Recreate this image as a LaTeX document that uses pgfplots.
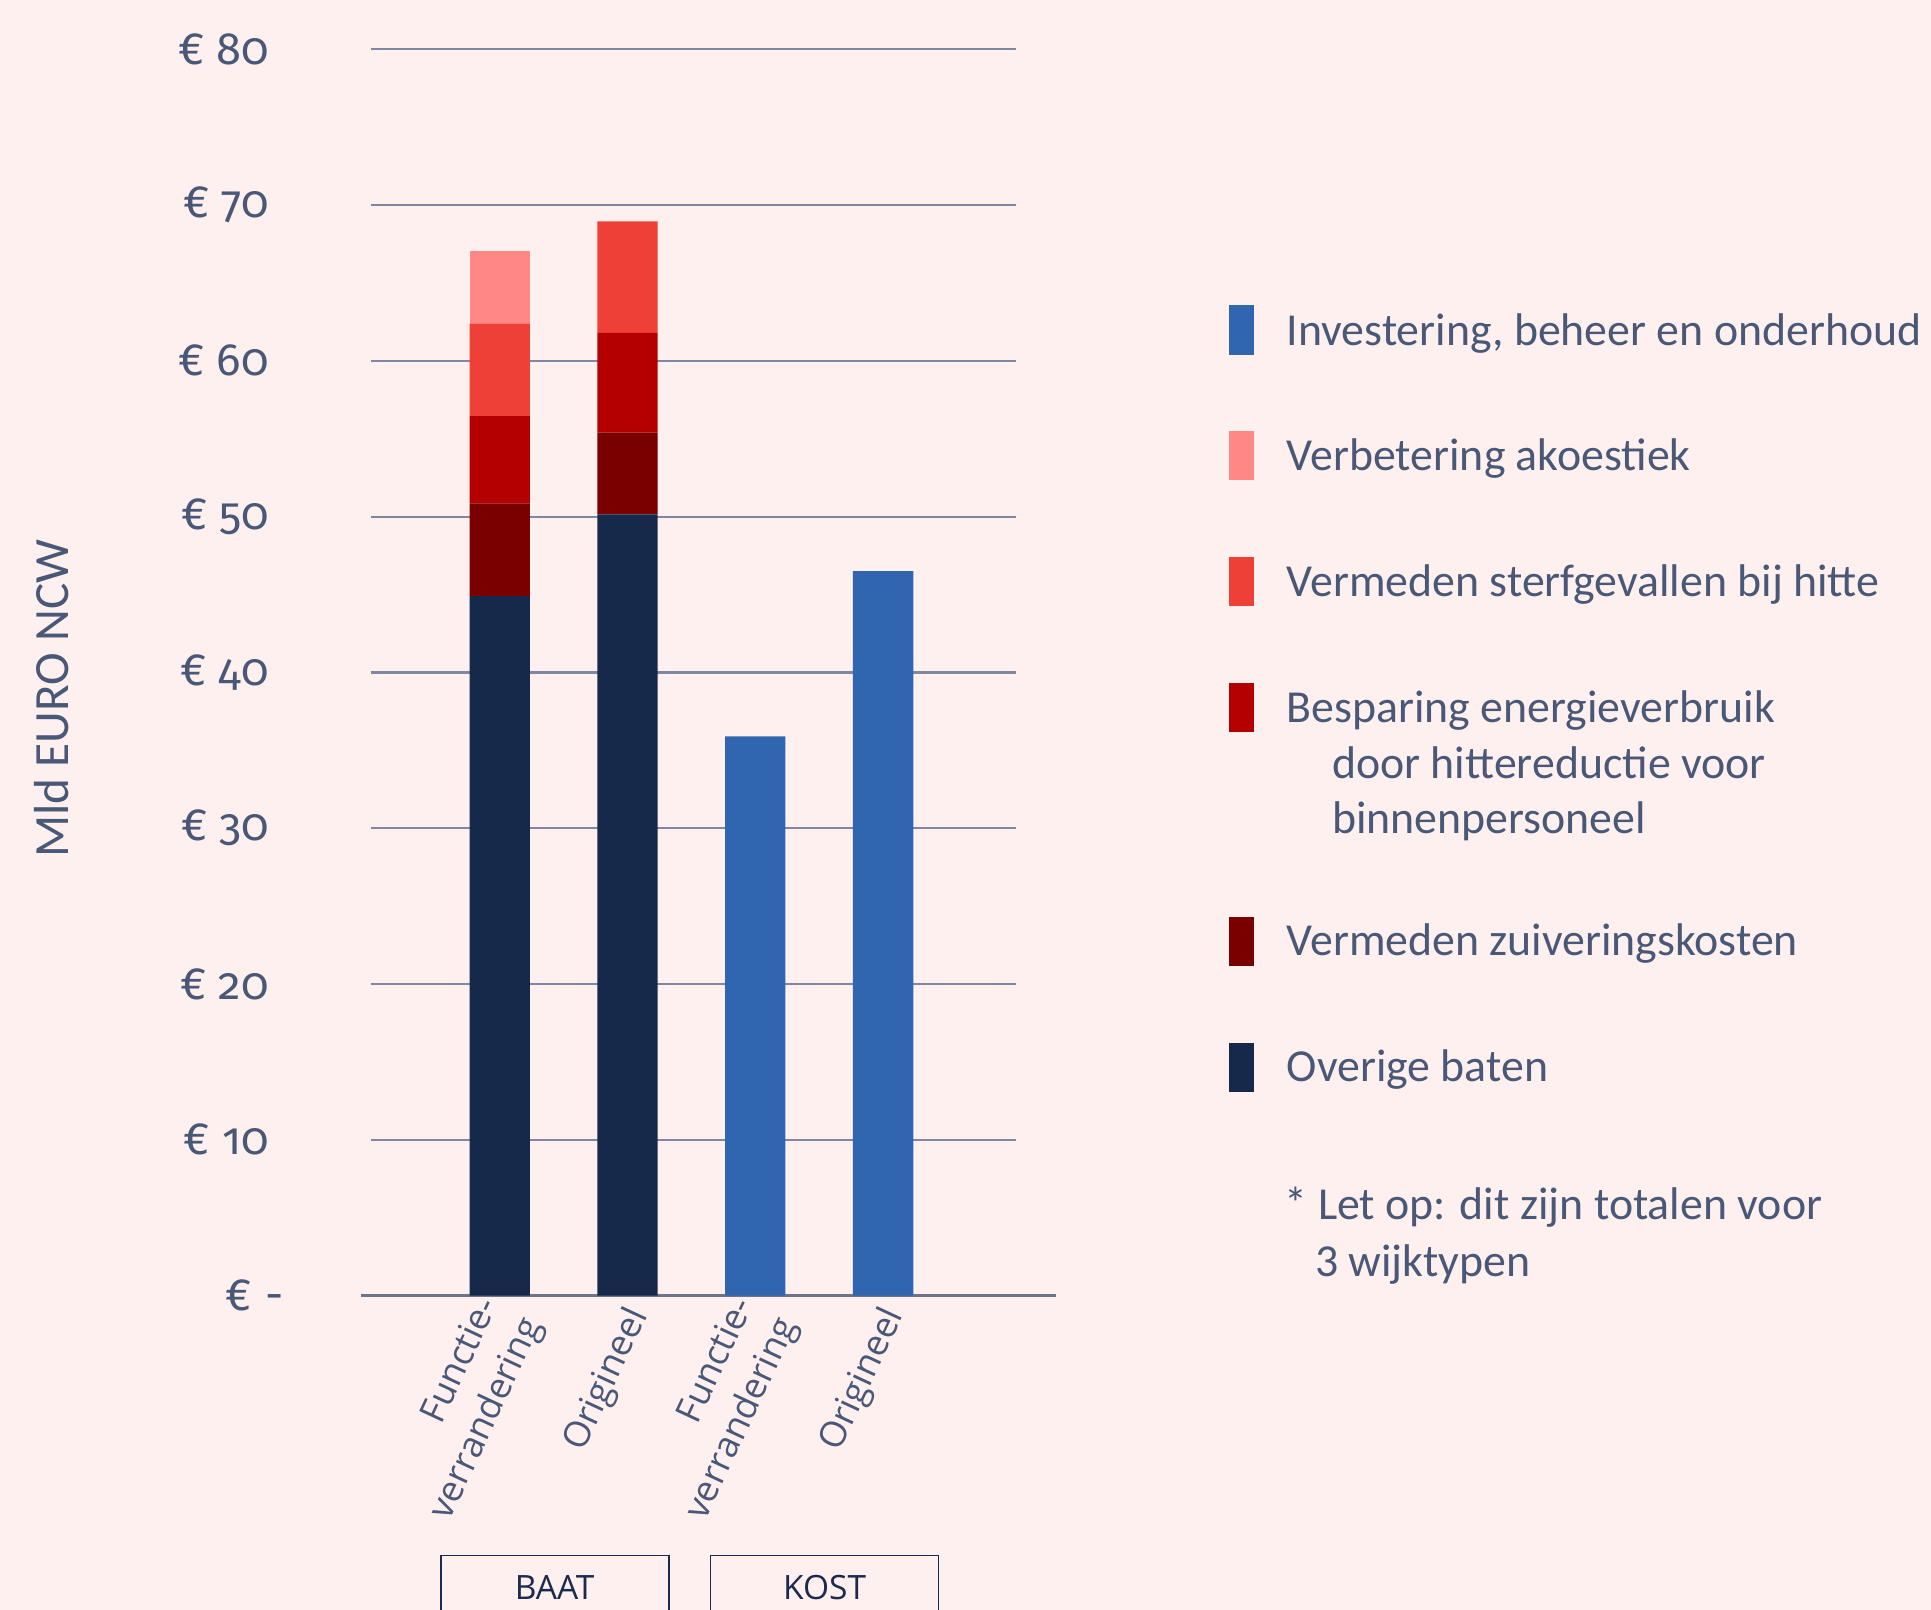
\documentclass[border=0pt]{standalone}
\usepackage{fontspec}
\setmainfont{Carlito}
\newfontfamily\tickfont[Numbers=OldStyle]{Fira Sans}
\newfontfamily\catfont{Open Sans}
\usepackage{pgfplots}
\usepackage{pgfplotstable}
\pgfplotsset{compat=1.18}
\definecolor{bg}{HTML}{FFF0F0}
\definecolor{txtcol}{HTML}{4A5877}
\definecolor{gridcol}{HTML}{7F88A0}
\definecolor{boxcol}{HTML}{1B2B4D}
\definecolor{cOve}{HTML}{16294B}
\definecolor{cZui}{HTML}{7A0000}
\definecolor{cBes}{HTML}{B50000}
\definecolor{cSte}{HTML}{EE4036}
\definecolor{cAko}{HTML}{FF8785}
\definecolor{cInv}{HTML}{3066B0}

\pgfplotstableread{
x overige zuiv besp sterf akoest invest
0 44.9  5.95 5.6 5.95 4.65 0
1 50.15 5.25 6.4 7.15 0    0
2 0     0    0   0    0    35.9
3 0     0    0   0    0    46.5
}\datatable

\begin{document}
\begin{tikzpicture}
\fill[bg] (0pt,0pt) rectangle (392pt,326.75pt);
\useasboundingbox (0pt,0pt) rectangle (392pt,326.75pt);
\begin{axis}[
  at={(75.25pt,63.75pt)}, anchor=south west,
  scale only axis, width=131pt, height=253pt,
  xmin=-1.01, xmax=4.04, ymin=0, ymax=80,
  ytick={0,10,...,80},
  yticklabels={{€\hspace{2.8pt}-\kern-3pt},€ 10,€ 20,€ 30,€ 40,€ 50,€ 60,€ 70,€ 80},
  xtick={0,1,2,3},
  xticklabels={{Functie-\\verrandering},Origineel,{Functie-\\verrandering},Origineel},
  axis line style={draw=none},
  major tick length=0pt,
  ymajorgrids,
  grid style={gridcol, line width=0.45pt},
  ybar stacked, bar width=12.25pt,
  clip=false,
  yticklabel style={font=\tickfont\fontsize{9.2}{11}\selectfont, text=txtcol, anchor=east, inner sep=0pt, xshift=-20.5pt},
  xticklabel style={font=\catfont\fontsize{7.3}{9.7}\selectfont, text=txtcol, align=right, xshift=2.5pt, yshift=-3pt, rotate=65, anchor=east, inner sep=0pt},
  ylabel={Mld EURO NCW},
  ylabel style={at={(axis description cs:-0.494,0.479)}, anchor=center, font=\fontsize{10}{12}\selectfont, text=txtcol},
]
\addplot[fill=cOve, draw=none] table[x=x, y=overige] {\datatable};
\addplot[fill=cZui, draw=none] table[x=x, y=zuiv] {\datatable};
\addplot[fill=cBes, draw=none] table[x=x, y=besp] {\datatable};
\addplot[fill=cSte, draw=none] table[x=x, y=sterf] {\datatable};
\addplot[fill=cAko, draw=none] table[x=x, y=akoest] {\datatable};
\addplot[fill=cInv, draw=none] table[x=x, y=invest] {\datatable};
\draw[gridcol!85!black, line width=0.5pt] (axis cs:-1.087,0) -- (axis cs:4.356,0);
\end{axis}

% legend
\fill[cInv] (249.5pt,254.75pt) rectangle (254.5pt,264.75pt);
\fill[cAko] (249.5pt,229.25pt) rectangle (254.5pt,239.25pt);
\fill[cSte] (249.5pt,203.65pt) rectangle (254.5pt,213.65pt);
\fill[cBes] (249.5pt,178.1pt) rectangle (254.5pt,188.1pt);
\fill[cZui] (249.5pt,130.6pt) rectangle (254.5pt,140.6pt);
\fill[cOve] (249.5pt,105.0pt) rectangle (254.5pt,115.0pt);
\begin{scope}[every node/.style={anchor=base west, inner sep=0pt, text=txtcol, font=\fontsize{9.3}{11.3}\selectfont}]
\node at (261pt,256.7pt) {Investering, beheer en onderhoud};
\node at (261pt,231.25pt) {Verbetering akoestiek};
\node at (261pt,205.65pt) {Vermeden sterfgevallen bij hitte};
\node at (261pt,180.1pt) {Besparing energieverbruik};
\node at (270.25pt,168.8pt) {door hittereductie voor};
\node at (270.25pt,157.5pt) {binnenpersoneel};
\node at (261pt,132.7pt) {Vermeden zuiveringskosten};
\node at (261pt,107.2pt) {Overige baten};
\node at (260.65pt,79.1pt) {* Let op: dit zijn totalen voor};
\node at (266.75pt,67.6pt) {3 wijktypen};
\end{scope}

% group boxes
\draw[boxcol, line width=0.35pt] (89.5pt,-2pt) -- (89.5pt,11pt) -- (135.75pt,11pt) -- (135.75pt,-2pt);
\draw[boxcol, line width=0.35pt] (144.25pt,-2pt) -- (144.25pt,11pt) -- (190.5pt,11pt) -- (190.5pt,-2pt);
\node[anchor=base, inner sep=0pt, text=boxcol, font=\catfont\fontsize{6.8}{8}\selectfont] at (112.6pt,1.95pt) {BAAT};
\node[anchor=base, inner sep=0pt, text=boxcol, font=\catfont\fontsize{6.8}{8}\selectfont] at (167.4pt,1.95pt) {KOST};
\end{tikzpicture}
\end{document}
